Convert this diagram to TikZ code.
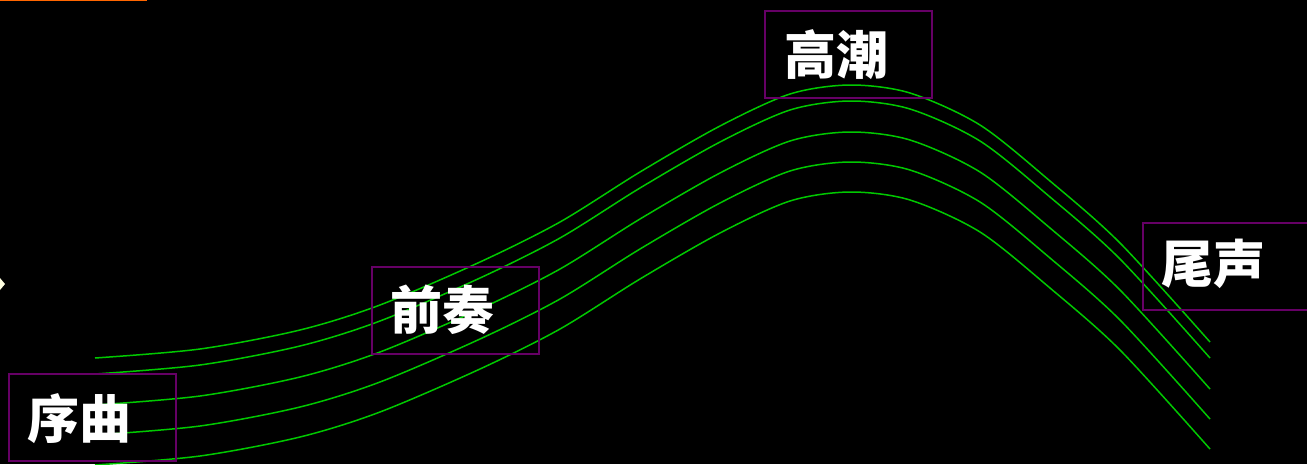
\documentclass[tikz,border=0pt]{standalone}
\usepackage{fontspec}
\newfontfamily\cjk{Noto Sans CJK SC}
\definecolor{grn}{RGB}{0,200,0}
\definecolor{plum}{RGB}{102,0,102}
\definecolor{org}{RGB}{255,102,0}
\definecolor{cream}{RGB}{255,255,225}
\tikzset{
  wave/.style={draw=grn, line width=1.5pt, smooth, tension=0.5},
  stagebox/.style={draw=plum, line width=2pt, minimum width=167pt, minimum height=87pt, anchor=north west, inner sep=0pt},
  stagetext/.style={text=white, anchor=west, inner sep=0pt, font=\cjk\bfseries\fontsize{52}{52}\selectfont},
}
\newcommand{\wavepts}{(95,358) (200,349) (300,330) (380,305) (480,262) (560,222) (640,172) (720,126) (790,94) (850,85) (910,93) (980,125) (1050,181) (1120,243) (1210,342)}
\begin{document}
\begin{tikzpicture}[x=1pt,y=-1pt]
\useasboundingbox (0,0) rectangle (1307,464);
\fill[black] (0,0) rectangle (1307,464);
\draw[org, line width=2.5pt] (0,0) -- (147,0);
\fill[cream] (0,278) -- (5,284) -- (0,290) -- cycle;
% waves
\foreach \dy in {0,16,47,77,107} {
  \draw[wave, yshift=-\dy pt] plot coordinates {\wavepts};
}
% boxes
\node[stagebox] (b1) at (8,373) {};
\node[stagebox] (b2) at (371,266) {};
\node[stagebox] (b3) at (764,10) {};
\node[stagebox] (b4) at (1142,222) {};
% texts
\node[stagetext] (t1) at ([xshift=19pt,yshift=-1pt]b1.west) {序曲};
\node[stagetext] (t2) at ([xshift=19pt,yshift=1pt]b2.west) {前奏};
\node[stagetext] (t3) at ([xshift=20pt]b3.west) {高潮};
\node[stagetext] (t4) at ([xshift=19pt,yshift=3pt]b4.west) {尾声};
\end{tikzpicture}
\end{document}
